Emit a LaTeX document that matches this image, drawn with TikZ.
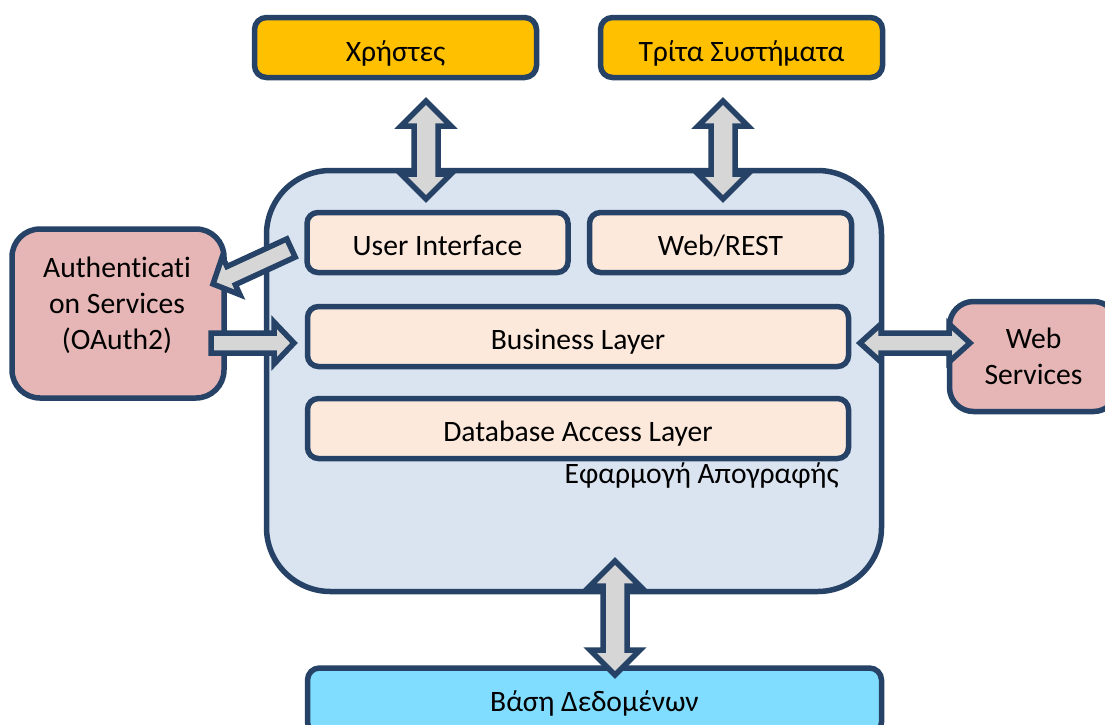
\documentclass[tikz,border=0pt]{standalone}
\usepackage{fontspec}
\setmainfont{Carlito}[Ligatures=NoCommon]
\usetikzlibrary{calc}
\definecolor{edge}{HTML}{264367}
\definecolor{appfill}{HTML}{DAE4F1}
\definecolor{layerfill}{HTML}{FCE9DB}
\definecolor{pinkfill}{HTML}{E6B5B5}
\definecolor{orangefill}{HTML}{FFC000}
\definecolor{dbfill}{HTML}{81DDFF}
\definecolor{arrowfill}{HTML}{D6D6D6}
\tikzset{
  box/.style={draw=edge,line width=5.5pt,align=center,inner sep=0pt,outer sep=0pt,
    font=\fontsize{29.6}{36}\selectfont,text=black},
  appbox/.style={box,fill=appfill,rounded corners=64pt},
  layerbox/.style={box,fill=layerfill,rounded corners=11pt,text height=26pt,text depth=0pt},
  servicebox/.style={box,fill=pinkfill,rounded corners=28pt},
  actorbox/.style={box,fill=orangefill,rounded corners=12pt,text height=27pt,text depth=0pt},
  dbbox/.style={box,fill=dbfill,rounded corners=12pt,text height=20pt,text depth=0pt},
  caption/.style={inner sep=0pt,align=center,font=\fontsize{29.6}{36}\selectfont,text=black},
  blockarrow/.style={draw=edge,fill=arrowfill,line width=5.5pt,miter limit=10,line join=miter}
}
% double-headed block arrow between two named points
\newcommand{\dblarrow}[5]{%
  \draw[blockarrow]
    (#1) -- ($(#1)!#5!(#2)!#4!90:(#2)$) -- ($(#1)!#5!(#2)!#3!90:(#2)$)
    -- ($(#2)!#5!(#1)!#3!-90:(#1)$) -- ($(#2)!#5!(#1)!#4!-90:(#1)$)
    -- (#2) -- ($(#2)!#5!(#1)!#4!90:(#1)$) -- ($(#2)!#5!(#1)!#3!90:(#1)$)
    -- ($(#1)!#5!(#2)!#3!-90:(#2)$) -- ($(#1)!#5!(#2)!#4!-90:(#2)$) -- cycle;}
% single-headed block arrow from #1 to #2
\newcommand{\onearrow}[5]{%
  \draw[blockarrow]
    ($(#1)!#3!90:(#2)$) -- ($(#2)!#5!(#1)!#3!-90:(#1)$) -- ($(#2)!#5!(#1)!#4!-90:(#1)$)
    -- (#2) -- ($(#2)!#5!(#1)!#4!90:(#1)$) -- ($(#2)!#5!(#1)!#3!90:(#1)$)
    -- ($(#1)!#3!-90:(#2)$) -- cycle;}
\begin{document}
\begin{tikzpicture}[x=1pt,y=-1pt]
\clip (0,0) rectangle (1105,724);
\fill[white] (0,0) rectangle (1105,724);

\node[actorbox,minimum width=282pt,minimum height=60pt] (users) at (395.5,47.5) {Χρήστες};
\node[actorbox,minimum width=282pt,minimum height=60pt] (third) at (741.5,47.5) {Τρίτα Συστήματα};

\node[appbox,minimum width=615pt,minimum height=421pt] (app) at (574,381) {};

\node[layerbox,minimum width=261pt,minimum height=60pt] (ui) at (437.5,242.5) {User Interface};
\node[layerbox,minimum width=262pt,minimum height=60pt] (web) at (720.5,242.5) {Web/REST};
\node[layerbox,minimum width=541pt,minimum height=60pt] (business) at (578,336.5) {Business Layer};
\node[layerbox,minimum width=541pt,minimum height=60pt] (dal) at (578,428.5) {Database Access Layer};
\node[caption,anchor=east] (applabel) at (839,475) {Εφαρμογή Απογραφής};

\node[servicebox,minimum width=212pt,minimum height=169pt] (auth) at (118,313.5) {};
\node[caption] (authlabel) at (117,305.5) {Authenticati\\on Services\\(OAuth2)};
\node[servicebox,minimum width=168pt,minimum height=110pt,rounded corners=24pt] (ws) at (1033.5,356.5) {Web\\Services};
\node[dbbox,minimum width=574pt,minimum height=66pt] (db) at (594.5,701) {Βάση Δεδομένων};

\coordinate (a1t) at (426,101);
\coordinate (a1b) at (426,199);
\coordinate (a2t) at (723,101);
\coordinate (a2b) at (723,199);
\coordinate (a3t) at (615,561);
\coordinate (a3b) at (615,675);
\coordinate (a4l) at (860,343);
\coordinate (a4r) at (970,343);
\coordinate (a5s) at (291,248);
\coordinate (a5e) at (213,284);
\coordinate (a6s) at (211,343);
\coordinate (a6e) at (294,343);

\dblarrow{a1t}{a1b}{12pt}{25pt}{25pt}
\dblarrow{a2t}{a2b}{12pt}{25pt}{25pt}
\dblarrow{a3t}{a3b}{12pt}{25pt}{25pt}
\dblarrow{a4l}{a4r}{10pt}{19pt}{21pt}
\onearrow{a5s}{a5e}{10pt}{21pt}{20pt}
\onearrow{a6s}{a6e}{10pt}{21pt}{20pt}
\end{tikzpicture}
\end{document}
